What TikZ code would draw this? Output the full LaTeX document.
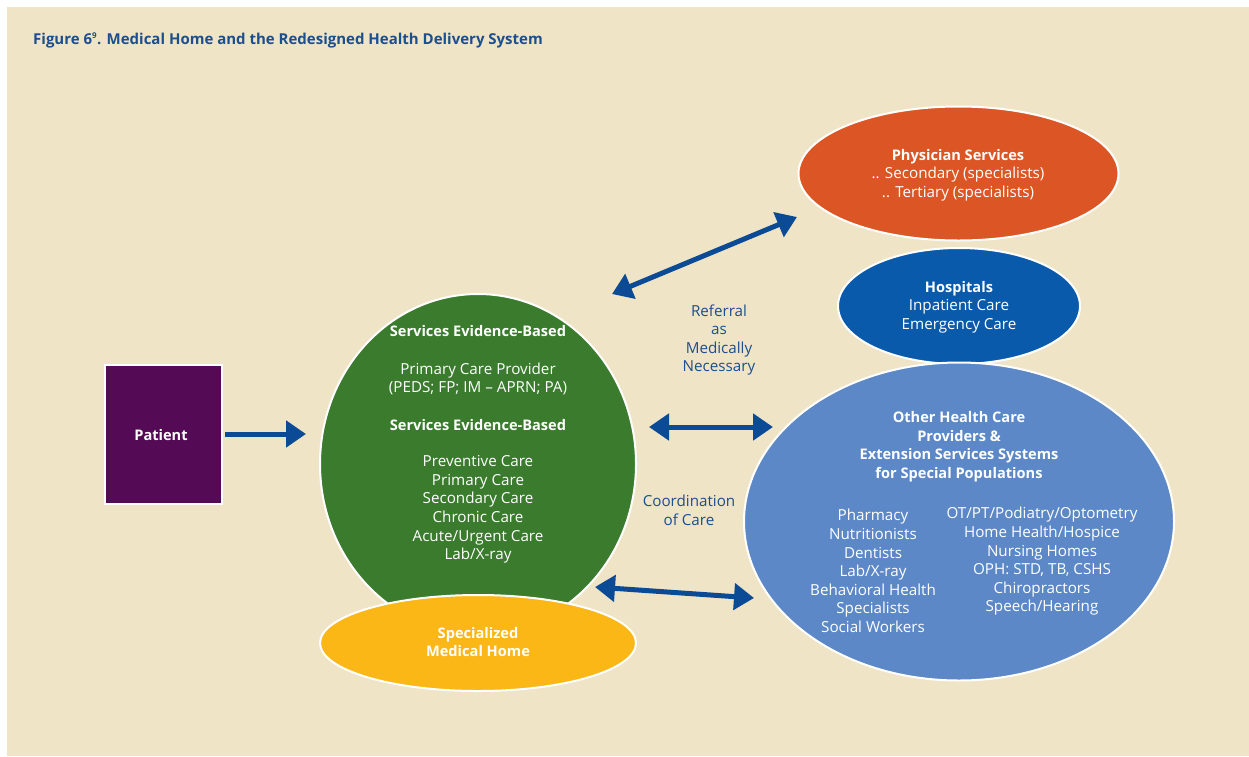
\documentclass[tikz,border=0pt]{standalone}
\usepackage{fontspec}
\setmainfont{Open Sans}
\usetikzlibrary{shapes.geometric,arrows.meta}
\definecolor{bg}{HTML}{F0E4C7}
\definecolor{titleblue}{HTML}{1B4F8E}
\definecolor{arrowblue}{HTML}{0B4B95}
\definecolor{patpurple}{HTML}{550A55}
\definecolor{svgreen}{HTML}{3A7B2E}
\definecolor{physorange}{HTML}{DC5524}
\definecolor{hospblue}{HTML}{0A5AAC}
\definecolor{otherblue}{HTML}{5C88C7}
\definecolor{homeyellow}{HTML}{FBB716}
\newcommand{\txtsize}{\fontsize{15.2}{18.6}\selectfont}
\newcommand{\bldsize}{\fontsize{14.6}{18.6}\selectfont\bfseries}
\begin{document}
\begin{tikzpicture}[x=1pt,y=-1pt,
  blob/.style={ellipse, draw=white, line width=2pt, inner sep=0pt},
  wtext/.style={text=white, align=center, font=\txtsize, inner sep=0pt},
  wbold/.style={text=white, align=center, font=\bldsize, inner sep=0pt},
  btext/.style={text=titleblue, align=center, font=\txtsize, inner sep=0pt},
  biarrow/.style={draw=arrowblue, line width=5pt, {Triangle[length=20pt,width=26pt]}-{Triangle[length=20pt,width=26pt]}},
  onearrow/.style={draw=arrowblue, line width=5pt, -{Triangle[length=20pt,width=26pt]}}
]
\useasboundingbox (0,0) rectangle (1249,756);
\fill[white] (0,0) rectangle (1249,756);
\fill[bg] (7,7) rectangle (1249,756);

\node[anchor=base west, text=titleblue, font=\fontsize{15}{17}\selectfont\bfseries, inner sep=0pt] (title) at (33,44)
  {Figure 6\textsuperscript{\fontsize{8}{8}\selectfont 9}. Medical Home and the Redesigned Health Delivery System};

% shapes
\node[draw=white, line width=2pt, fill=patpurple, minimum width=117pt, minimum height=139pt, inner sep=0pt] (patient) at (163.5,434.5) {};
\node[wbold] (patientlbl) at (161,435) {Patient};

\node[blob, fill=svgreen, minimum width=316pt, minimum height=340pt] (green) at (478,464) {};
\node[blob, fill=homeyellow, minimum width=316pt, minimum height=96pt] (home) at (478,643) {};
\node[blob, fill=physorange, minimum width=320pt, minimum height=134pt] (phys) at (958.5,173.5) {};
\node[blob, fill=hospblue, minimum width=242pt, minimum height=116pt] (hosp) at (959,306) {};
\node[blob, fill=otherblue, minimum width=430pt, minimum height=318pt] (other) at (959,521.5) {};

% texts
\node[wbold] (g1) at (478,331) {Services Evidence-Based};
\node[wtext] (g2) at (478,379) {Primary Care Provider\\(PEDS; FP; IM -- APRN; PA)};
\node[wbold] (g3) at (478,425) {Services Evidence-Based};
\node[wtext] (g4) at (478,509.5) {Preventive Care\\Primary Care\\Secondary Care\\Chronic Care\\Acute/Urgent Care\\Lab/X-ray};

\node[wbold] (homelbl) at (478,642) {Specialized\\Medical Home};

\node[wtext] (physlbl) at (958,175) {{\bldsize Physician Services}\\.. Secondary (specialists)\\.. Tertiary (specialists)};
\node[wtext] (hosplbl) at (959,307) {{\bldsize Hospitals}\\Inpatient Care\\Emergency Care};

\node[wbold] (otherhead) at (959,446.5) {Other Health Care\\Providers \&\\Extension Services Systems\\for Special Populations};
\node[wtext] (otherleft) at (873,571) {Pharmacy\\Nutritionists\\Dentists\\Lab/X-ray\\Behavioral Health\\Specialists\\Social Workers};
\node[wtext] (otherright) at (1042,561.5) {OT/PT/Podiatry/Optometry\\Home Health/Hospice\\Nursing Homes\\OPH: STD, TB, CSHS\\Chiropractors\\Speech/Hearing};

\node[btext] (referral) at (719,340) {Referral\\as\\Medically\\Necessary};
\node[btext] (coord) at (689,510.5) {Coordination\\of Care};

% connectors
\coordinate (pa) at (225,434);
\coordinate (pb) at (306,434);
\coordinate (ta) at (612,294);
\coordinate (tb) at (797,217);
\coordinate (ma) at (649,427);
\coordinate (mb) at (773,427);
\coordinate (ba) at (595,587);
\coordinate (bb) at (754,598);
\draw[onearrow] (pa) -- (pb);
\draw[biarrow] (ta) -- (tb);
\draw[biarrow] (ma) -- (mb);
\draw[biarrow] (ba) -- (bb);
\end{tikzpicture}
\end{document}
